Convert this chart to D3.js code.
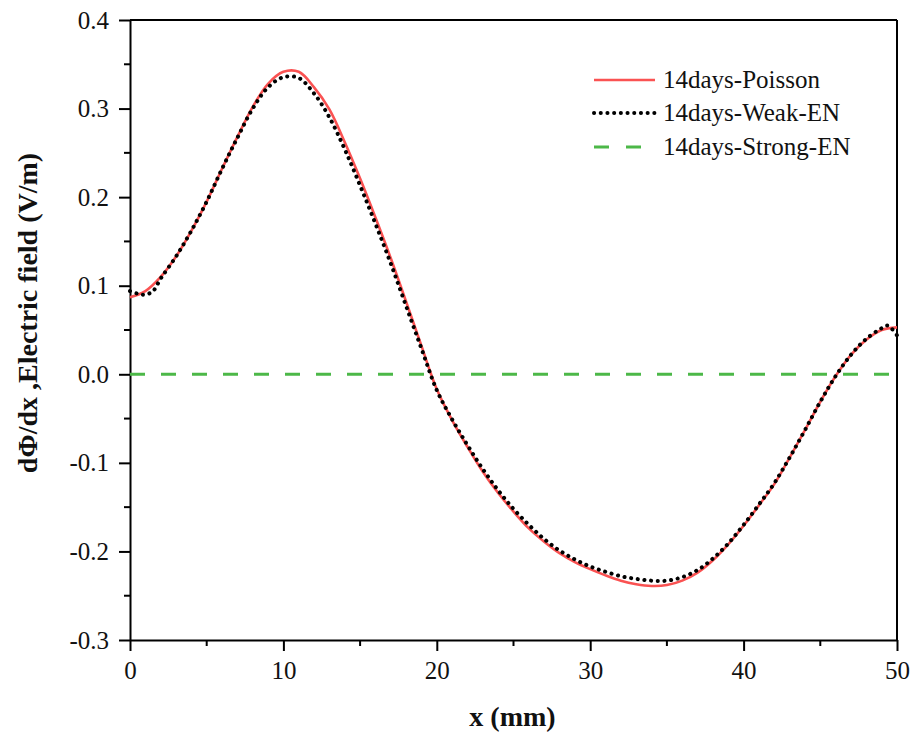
<!DOCTYPE html>
<html>
<head>
<meta charset="utf-8">
<script src="https://cdn.jsdelivr.net/npm/d3@7"></script>
<style>
  body { margin: 0; background: #fff; }
  svg text { font-family: "Liberation Serif", "Times New Roman", serif; fill: #111; }
</style>
</head>
<body>
<svg id="chart" width="916" height="740"></svg>
<script>
// Electric field profiles along x after 14 days
const xPoisson = [0,1,2,3,4,5,6,7,8,9,10,11,12,13,14,15,16,17,18,19,20,21,22,23,24,25,26,27,28,29,30,31,32,33,34,35,36,37,38,39,40,41,42,43,44,45,46,47,48,49,50];
const yPoisson = [0.087,0.094,0.110,0.133,0.162,0.195,0.232,0.268,0.302,0.328,0.3415,0.3415,0.324,0.299,0.262,0.221,0.177,0.131,0.082,0.032,-0.017,-0.052,-0.082,-0.110,-0.134,-0.155,-0.174,-0.189,-0.202,-0.212,-0.220,-0.227,-0.233,-0.237,-0.239,-0.238,-0.233,-0.224,-0.210,-0.192,-0.171,-0.148,-0.124,-0.094,-0.063,-0.031,-0.002,0.022,0.039,0.050,0.053];

const xWeak = [0,0.5,1,1.5,2,3,4,5,6,7,8,9,10,11,12,13,14,15,16,17,18,19,20,21,22,23,24,25,26,27,28,29,30,31,32,33,34,35,36,37,38,39,40,41,42,43,44,45,46,47,48,49,49.4,50];
const yWeak = [0.094,0.091,0.090,0.094,0.108,0.133,0.162,0.195,0.232,0.267,0.300,0.324,0.3355,0.3345,0.317,0.290,0.254,0.213,0.170,0.125,0.077,0.029,-0.018,-0.051,-0.080,-0.107,-0.131,-0.152,-0.170,-0.186,-0.199,-0.209,-0.217,-0.223,-0.228,-0.231,-0.233,-0.233,-0.229,-0.221,-0.208,-0.191,-0.170,-0.147,-0.123,-0.094,-0.063,-0.031,-0.002,0.022,0.040,0.052,0.055,0.044];

const xStrong = [0, 50];
const yStrong = [0, 0];

const seriesNames = ["14days-Poisson", "14days-Weak-EN", "14days-Strong-EN"];
const xTicks = [0, 10, 20, 30, 40, 50];
const yTicks = [-0.3, -0.2, -0.1, 0.0, 0.1, 0.2, 0.3, 0.4];

const svg = d3.select("#chart");
const plotLeft = 130, plotRight = 897, plotTop = 20, plotBottom = 640;

const x = d3.scaleLinear().domain([0, 50]).range([plotLeft, plotRight]);
const y = d3.scaleLinear().domain([-0.3, 0.4]).range([plotBottom, plotTop]);

const fontSize = 25;
const fmtY = d => d3.format(".1f")(d).replace("\u2212", "-");

// frame: top and right edges
svg.append("line").attr("x1", plotLeft).attr("x2", plotRight).attr("y1", plotTop).attr("y2", plotTop)
  .attr("stroke", "#000").attr("stroke-width", 2);
svg.append("line").attr("x1", plotRight).attr("x2", plotRight).attr("y1", plotTop).attr("y2", plotBottom)
  .attr("stroke", "#000").attr("stroke-width", 2);

// bottom axis with minor ticks
const xMinor = d3.range(5, 50, 10);
const gx = svg.append("g").attr("transform", `translate(0,${plotBottom})`);
gx.call(d3.axisBottom(x).tickValues(xTicks).tickFormat(d3.format("d")).tickSize(11).tickPadding(10).tickSizeOuter(0));
gx.selectAll(".tick line").attr("stroke-width", 2);
gx.select(".domain").attr("stroke-width", 2);
gx.selectAll(".tick text").style("font-size", fontSize + "px").attr("fill", "#111");
gx.selectAll(".minor").data(xMinor).enter().append("line")
  .attr("x1", d => x(d)).attr("x2", d => x(d)).attr("y1", 0).attr("y2", 6)
  .attr("stroke", "#000").attr("stroke-width", 2);

// left axis with minor ticks
const yMinor = d3.range(-0.25, 0.4, 0.1);
const gy = svg.append("g").attr("transform", `translate(${plotLeft},0)`);
gy.call(d3.axisLeft(y).tickValues(yTicks).tickFormat(fmtY).tickSize(11).tickPadding(10).tickSizeOuter(0));
gy.selectAll(".tick line").attr("stroke-width", 2);
gy.select(".domain").attr("stroke-width", 2);
gy.selectAll(".tick text").style("font-size", fontSize + "px").attr("fill", "#111");
gy.selectAll(".minor").data(yMinor).enter().append("line")
  .attr("x1", -6).attr("x2", 0).attr("y1", d => y(d)).attr("y2", d => y(d))
  .attr("stroke", "#000").attr("stroke-width", 2);

// axis titles
svg.append("text").attr("x", (plotLeft + plotRight) / 2 - 1).attr("y", 726)
  .attr("text-anchor", "middle").style("font-size", "28px").style("font-weight", "bold")
  .text("x (mm)");
svg.append("text").attr("transform", "translate(37,313) rotate(-90)")
  .attr("text-anchor", "middle").style("font-size", "28px").style("font-weight", "bold")
  .text("dΦ/dx ,Electric field (V/m)");

// curves
const line = d3.line().x(d => x(d[0])).y(d => y(d[1])).curve(d3.curveCatmullRom.alpha(0.5));

const styles = [
  { stroke: "#fa5252", width: 2.6, dash: null, cap: "butt" },
  { stroke: "#000", width: 4, dash: "0.1 6.6", cap: "round" },
  { stroke: "#4cb848", width: 3, dash: "15 16", cap: "butt" }
];

const data = [
  d3.zip(xPoisson, yPoisson),
  d3.zip(xWeak, yWeak),
  d3.zip(xStrong, yStrong)
];

const drawOrder = [2, 0, 1];
drawOrder.forEach(i => {
  const s = styles[i];
  svg.append("path").datum(data[i]).attr("d", line)
    .attr("fill", "none").attr("stroke", s.stroke).attr("stroke-width", s.width)
    .attr("stroke-dasharray", s.dash).attr("stroke-linecap", s.cap);
});

// legend
const legend = svg.append("g");
const rowY = [80, 113, 147];
seriesNames.forEach((name, i) => {
  const s = styles[i];
  legend.append("line").attr("x1", 594).attr("x2", 655).attr("y1", rowY[i]).attr("y2", rowY[i])
    .attr("stroke", s.stroke).attr("stroke-width", s.width)
    .attr("stroke-dasharray", i === 2 ? "15 17" : s.dash).attr("stroke-linecap", s.cap);
  legend.append("text").attr("x", 663).attr("y", rowY[i] + 8)
    .style("font-size", fontSize + "px").text(name);
});
</script>
</body>
</html>
